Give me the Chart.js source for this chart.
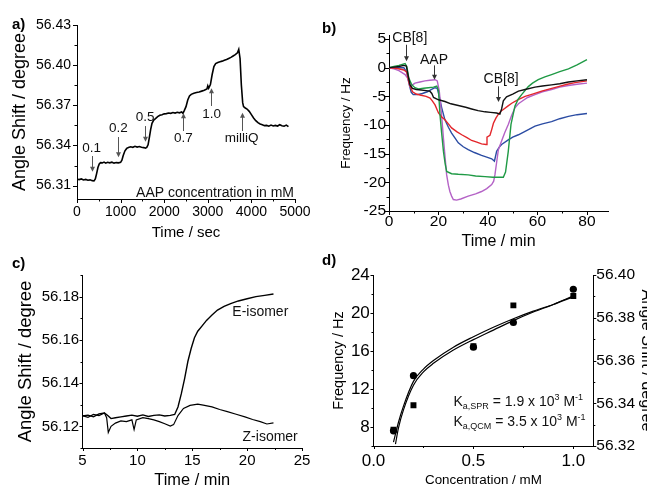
<!DOCTYPE html>
<html>
<head>
<meta charset="utf-8">
<script src="https://cdn.jsdelivr.net/npm/chart.js@4.4.1/dist/chart.umd.min.js"></script>
<style>
  body { margin: 0; background: #fff; }
  #fig { position: relative; width: 647px; height: 493px; overflow: hidden; font-family: "Liberation Sans", Arial, sans-serif; }
  .panel { position: absolute; }
  .tag { position: absolute; font-weight: bold; font-size: 15px; line-height: 1; color: #000; }
</style>
</head>
<body>
<div id="fig">
  <div class="panel" style="left:0;top:0;width:320px;height:248px"><canvas id="chartA"></canvas></div>
  <div class="panel" style="left:320px;top:0;width:327px;height:255px"><canvas id="chartB"></canvas></div>
  <div class="panel" style="left:0;top:250px;width:320px;height:243px"><canvas id="chartC"></canvas></div>
  <div class="panel" style="left:320px;top:250px;width:335px;height:243px"><canvas id="chartD"></canvas></div>
  <div class="tag" style="left:12px;top:16px">a)</div>
  <div class="tag" style="left:322px;top:20px">b)</div>
  <div class="tag" style="left:12px;top:255px">c)</div>
  <div class="tag" style="left:322px;top:252px">d)</div>
</div>
<script>
// ---- panel a: SPR angle vs time, stepwise AAP additions
const timeA = [0, 50, 100, 150, 200, 250, 300, 350, 390, 420, 450, 480, 510, 540, 580, 620, 660, 700, 750, 800,
  850, 900, 950, 1000, 1030, 1060, 1100, 1140, 1180, 1230, 1280, 1330, 1380, 1430, 1480, 1530, 1570, 1600, 1630, 1660,
  1690, 1720, 1760, 1800, 1850, 1900, 1950, 2000, 2050, 2100, 2150, 2200, 2250, 2300, 2350, 2400, 2430, 2460, 2500, 2540,
  2580, 2620, 2680, 2740, 2800, 2860, 2920, 2980, 3000, 3020, 3060, 3100, 3140, 3180, 3230, 3280, 3330, 3380, 3430, 3480,
  3530, 3580, 3630, 3680, 3710, 3740, 3770, 3800, 3820, 3860, 3900, 3950, 4000, 4050, 4100, 4150, 4200, 4250, 4300, 4350,
  4400, 4450, 4500, 4550, 4600, 4650, 4700, 4750, 4800, 4850];
const angleA = [56.3148, 56.3145, 56.3150, 56.3142, 56.3146, 56.3140, 56.3143, 56.3137, 56.3135, 56.3150, 56.3190, 56.3235, 56.3262, 56.3272, 56.3270, 56.3276, 56.3268, 56.3274, 56.3270, 56.3275,
  56.3268, 56.3272, 56.3270, 56.3274, 56.3290, 56.3325, 56.3360, 56.3378, 56.3385, 56.3390, 56.3386, 56.3394, 56.3388, 56.3392, 56.3386, 56.3384, 56.3380, 56.3385, 56.3405, 56.3460,
  56.3520, 56.3565, 56.3590, 56.3600, 56.3615, 56.3625, 56.3630, 56.3636, 56.3638, 56.3642, 56.3640, 56.3646, 56.3642, 56.3648, 56.3644, 56.3650, 56.3640, 56.3660, 56.3690, 56.3740,
  56.3770, 56.3782, 56.3790, 56.3796, 56.3800, 56.3806, 56.3812, 56.3822, 56.3845, 56.3828, 56.3855, 56.3930, 56.3990, 56.4012, 56.4020, 56.4026, 56.4030, 56.4036, 56.4042, 56.4050,
  56.4058, 56.4068, 56.4078, 56.4092, 56.4118, 56.4050, 56.3850, 56.3720, 56.3690, 56.3680, 56.3672, 56.3655, 56.3630, 56.3605, 56.3585, 56.3570, 56.3560, 56.3555, 56.3548, 56.3550,
  56.3544, 56.3552, 56.3546, 56.3550, 56.3545, 56.3555, 56.3548, 56.3544, 56.3552, 56.3540];
const xTicksA = [0, 1000, 2000, 3000, 4000, 5000];
const yTicksA = [56.31, 56.34, 56.37, 56.40, 56.43];
const stepsA = ['0.1', '0.2', '0.5', '0.7', '1.0', 'milliQ'];

// ---- panel b: QCM frequency vs time, five runs
const blackB = [[0, 0], [2, 0.1], [4, 0.2], [6, 0.4], [7, 0.3], [7.8, -1.5], [8.5, -3.0], [9.5, -3.6], [11, -3.8], [13, -3.9], [15, -4.0], [16.5, -4.1], [17.3, -4.5], [18, -5.2], [20, -5.6], [22.6, -5.9], [25, -6.3], [28, -6.6], [31, -6.9], [33.4, -7.2], [36, -7.5], [38.8, -7.7], [41, -7.8], [43.5, -7.9], [44.8, -8.1], [45.5, -7.2], [46.2, -5.8], [47.5, -5.1], [50, -4.6], [52.3, -4.1], [55, -3.8], [59, -3.4], [62, -3.2], [65.7, -3.0], [69, -2.8], [72.5, -2.5], [76, -2.3], [80, -2.1]];
const redB = [[0, 0], [3, -0.1], [6, -0.4], [7.2, -0.8], [8.2, -2.8], [9.5, -4.2], [11, -4.6], [13, -4.8], [15, -5.0], [16.6, -5.3], [17.5, -5.8], [18.6, -6.5], [20, -7.9], [21.3, -8.6], [22.6, -9.1], [24, -9.8], [25.3, -10.5], [27.5, -11.2], [29.4, -11.7], [31.5, -12.2], [33.4, -12.7], [35.5, -13.0], [37.4, -13.3], [39.2, -13.4], [39.6, -12.1], [40.8, -11.8], [41.5, -10.8], [42.2, -9.7], [43.2, -8.8], [44.2, -8.1], [45.2, -7.6], [46.2, -7.3], [48, -6.7], [49.6, -6.2], [52, -5.6], [55, -5.0], [58, -4.6], [61.7, -4.1], [65, -3.7], [68.4, -3.3], [72, -2.9], [75.2, -2.6], [80, -2.3]];
const blueB = [[0, 0], [3, 0], [6, 0], [7.2, -0.8], [8.2, -3.0], [9, -4.3], [9.8, -4.7], [11.5, -4.7], [13.5, -4.5], [15.5, -4.2], [17.2, -3.8], [18.6, -3.5], [19.5, -3.6], [20.2, -4.8], [21.3, -7.0], [22.6, -9.1], [24, -10.4], [25.3, -11.4], [26.7, -12.3], [28, -13.1], [30, -13.8], [32, -14.3], [34.5, -14.8], [37.4, -15.3], [39.5, -15.6], [41.5, -15.9], [42.6, -16.3], [43.5, -14.6], [44.5, -13.9], [45.5, -13.4], [48.2, -12.6], [50, -12.1], [52.3, -11.7], [55, -11.1], [59, -10.2], [62, -9.8], [65.7, -9.4], [69, -8.9], [72.5, -8.5], [76, -8.2], [80, -8.0]];
const greenB = [[0, 0], [2, 0.2], [4, 0.4], [6.5, 0.7], [7.2, 0.2], [8, -1.8], [9.2, -3.0], [10.5, -3.5], [11.9, -3.7], [14, -3.6], [15.9, -3.5], [18, -3.4], [19.3, -3.2], [20, -4.0], [20.6, -8.2], [21.3, -11.5], [22, -14.6], [22.7, -16.8], [23.3, -18.1], [25.3, -18.5], [28, -18.6], [32, -18.7], [35, -18.9], [38.8, -19.0], [42, -19.1], [46.2, -19.1], [47.1, -18.2], [48.2, -14.6], [49.3, -9.9], [50.9, -6.7], [52.2, -5.5], [53.6, -4.7], [56.3, -3.3], [58, -2.7], [60.3, -2.1], [63, -1.6], [65.7, -1.2], [69, -0.7], [72.5, -0.2], [76, 0.5], [80, 1.4]];
const violetB = [[0, 0], [2, -0.2], [4, -0.5], [6.5, -1.2], [7.5, -1.8], [8.5, -3.3], [9.5, -3.0], [10.5, -2.7], [12.5, -2.5], [14.5, -2.3], [16.5, -2.2], [18.6, -2.1], [19.5, -2.3], [20.3, -4.0], [21.2, -8.0], [22, -12.3], [22.7, -15.8], [23.3, -18.7], [24, -20.5], [24.6, -21.6], [25.3, -22.4], [26, -23.0], [27.3, -23.1], [29, -22.9], [32, -22.4], [35, -22.0], [37.4, -21.6], [39.5, -21.1], [41.5, -20.4], [42.3, -19.8], [42.8, -18.7], [43.5, -16.5], [44.2, -14.3], [45.5, -12.8], [46.8, -11.3], [48.2, -9.9], [49.5, -8.4], [50.9, -7.0], [52.3, -6.3], [53.6, -5.9], [56, -5.2], [59, -4.7], [62, -4.2], [65.7, -3.8], [69, -3.4], [72.5, -3.1], [76, -2.9], [80, -2.7]];
const xTicksB = [0, 20, 40, 60, 80];
const yTicksB = [-25, -20, -15, -10, -5, 0, 5];

// ---- panel c: E and Z isomer responses
const eIsomerC = [[5.0, 56.1248], [5.5, 56.1252], [6.0, 56.1244], [6.5, 56.1258], [7.0, 56.1262], [7.3, 56.1250], [7.6, 56.1236], [8.0, 56.1240], [8.5, 56.1244], [9.0, 56.1248], [9.5, 56.1252], [10.0, 56.1247], [10.5, 56.1253], [11.0, 56.1246], [11.5, 56.1251], [12.0, 56.1253], [12.5, 56.1248], [13.0, 56.1251], [13.4, 56.1255], [13.7, 56.1290], [14.0, 56.1350], [14.3, 56.1420], [14.6, 56.1500], [14.9, 56.1560], [15.2, 56.1610], [15.5, 56.1640], [15.9, 56.1665], [16.3, 56.1690], [16.8, 56.1715], [17.3, 56.1738], [17.9, 56.1755], [18.5, 56.1768], [19.2, 56.1780], [20.0, 56.1790], [20.8, 56.1800], [21.6, 56.1806], [22.4, 56.1812]];
const zIsomerC = [[5.0, 56.1250], [5.5, 56.1242], [6.0, 56.1255], [6.5, 56.1250], [7.0, 56.1262], [7.2, 56.1240], [7.35, 56.1172], [7.6, 56.1200], [8.0, 56.1215], [8.5, 56.1225], [9.0, 56.1222], [9.5, 56.1230], [9.7, 56.1185], [9.9, 56.1230], [10.5, 56.1240], [11.0, 56.1236], [11.5, 56.1230], [12.0, 56.1222], [12.5, 56.1212], [13.0, 56.1201], [13.3, 56.1208], [13.7, 56.1250], [14.2, 56.1283], [14.8, 56.1297], [15.5, 56.1303], [16.0, 56.1298], [16.8, 56.1290], [17.5, 56.1278], [18.2, 56.1268], [19.0, 56.1256], [19.8, 56.1244], [20.5, 56.1232], [21.2, 56.1222], [21.8, 56.1211], [22.4, 56.1216]];
const xTicksC = [5, 10, 15, 20, 25];
const yTicksC = [56.12, 56.14, 56.16, 56.18];

// ---- panel d: binding isotherms
const concD = [0.1, 0.2, 0.5, 0.7, 1.0];
const qcmFreqD = [7.6, 13.4, 16.4, 19.0, 22.5];
const sprAngleD = [56.3276, 56.3391, 56.3667, 56.3858, 56.3902];
const fitOneD = [[0.1, 6.4], [0.125, 8.5], [0.15, 10.2], [0.2, 12.8], [0.25, 14.1], [0.3, 15.0], [0.4, 16.4], [0.5, 17.5], [0.6, 18.5], [0.7, 19.4], [0.8, 20.2], [0.9, 20.9], [1.0, 21.7]];
const fitTwoD = [[0.11, 6.2], [0.125, 7.9], [0.15, 9.8], [0.2, 12.4], [0.25, 13.8], [0.3, 14.7], [0.4, 16.1], [0.5, 17.2], [0.6, 18.2], [0.7, 19.2], [0.8, 20.1], [0.9, 20.9], [1.0, 21.8]];
const xTicksD = [0, 0.5, 1.0];
const yTicksD = [8, 12, 16, 20, 24];
const y2TicksD = [56.32, 56.34, 56.36, 56.38, 56.40];

const FONT = '"Liberation Sans", Arial, sans-serif';
Chart.defaults.font.family = FONT;
Chart.defaults.color = '#000';
Chart.defaults.animation = false;
Chart.defaults.responsive = true;
Chart.defaults.maintainAspectRatio = false;
Chart.defaults.plugins.legend.display = false;
Chart.defaults.plugins.tooltip.enabled = false;

const xy = arr => arr.map(p => ({ x: p[0], y: p[1] }));

// minor + major tick marks drawn outward from each axis line
const axisTicks = {
  id: 'axisTicks',
  afterDraw(chart, args, opts) {
    const ctx = chart.ctx;
    ctx.save();
    ctx.strokeStyle = '#000';
    ctx.lineWidth = 1;
    Object.keys(opts.minor || {}).forEach(id => {
      const s = chart.scales[id], step = opts.minor[id];
      const base = s.ticks[0].value;
      const k0 = Math.ceil((s.min - base) / step - 1e-6), k1 = Math.floor((s.max - base) / step + 1e-6);
      ctx.beginPath();
      for (let k = k0; k <= k1; k++) {
        const v = base + k * step;
        const major = s.ticks.some(t => Math.abs(t.value - v) < step / 10);
        const len = major ? opts.major : opts.short;
        const p = Math.round(s.getPixelForValue(v)) + 0.5;
        if (s.position === 'bottom') { ctx.moveTo(p, s.top); ctx.lineTo(p, s.top + len); }
        else if (s.position === 'left') { ctx.moveTo(s.right, p); ctx.lineTo(s.right - len, p); }
        else { ctx.moveTo(s.left, p); ctx.lineTo(s.left + len, p); }
      }
      ctx.stroke();
    });
    ctx.restore();
  }
};

// text notes and arrows placed in data coordinates
const notes = {
  id: 'notes',
  afterDraw(chart, args, o) {
    if (!o.labels && !o.arrows) return;
    const ctx = chart.ctx, xs = chart.scales.x, ys = chart.scales.y;
    ctx.save();
    ctx.strokeStyle = ctx.fillStyle = o.arrowColor || '#444';
    ctx.lineWidth = 1;
    (o.arrows || []).forEach(a => {
      const x = Math.round(xs.getPixelForValue(a[0])) + 0.5;
      const y0 = ys.getPixelForValue(a[1]), y1 = ys.getPixelForValue(a[2]);
      const d = Math.sign(y1 - y0);
      ctx.beginPath(); ctx.moveTo(x, y0); ctx.lineTo(x, y1 - d * 4); ctx.stroke();
      ctx.beginPath(); ctx.moveTo(x - 2.5, y1 - d * 5); ctx.lineTo(x + 2.5, y1 - d * 5); ctx.lineTo(x, y1); ctx.closePath(); ctx.fill();
    });
    ctx.fillStyle = '#111';
    ctx.textBaseline = 'middle';
    (o.labels || []).forEach(l => {
      let x = xs.getPixelForValue(l.x);
      const y = ys.getPixelForValue(l.y);
      if (l.parts) {
        ctx.textAlign = 'left';
        l.parts.forEach(p => {
          ctx.font = p[1] + 'px ' + FONT;
          ctx.fillText(p[0], x, y + p[2]);
          x += ctx.measureText(p[0]).width;
        });
      } else {
        ctx.textAlign = 'center';
        ctx.font = l.size + 'px ' + FONT;
        ctx.fillText(l.text, x, y);
      }
    });
    ctx.restore();
  }
};
Chart.register(axisTicks, notes);

function axis(o) {
  return {
    type: 'linear', position: o.pos, min: o.min, max: o.max,
    grid: { display: false, drawTicks: false },
    border: { display: true, color: '#000', width: 1 },
    afterBuildTicks: s => { s.ticks = o.ticks.map(v => ({ value: v })); },
    afterFit: s => {
      if (o.pos === 'bottom') s.height = o.size; else s.width = o.size;
      s.paddingLeft = s.paddingRight = s.paddingTop = s.paddingBottom = 0;
    },
    ticks: { color: '#000', padding: o.pad, autoSkip: false, maxRotation: 0, font: { size: o.font, lineHeight: 1 }, callback: o.fmt },
    title: { display: true, text: o.title, color: '#000', font: { size: o.titleSize, lineHeight: 1 }, padding: o.titlePad }
  };
}

const trace = (data, color, w) => ({ data: data, borderColor: color, borderWidth: w, pointRadius: 0, tension: 0, fill: false });

// a)
new Chart(document.getElementById('chartA'), {
  type: 'line',
  data: { datasets: [trace(timeA.map((t, i) => ({ x: t, y: angleA[i] })), '#000', 1.6)] },
  options: {
    layout: { padding: { left: 0, top: 25, right: 25, bottom: 0 } },
    scales: {
      x: axis({ pos: 'bottom', min: 0, max: 5000, ticks: xTicksA, size: 49, pad: 6, font: 14, fmt: v => String(v), title: 'Time / sec', titleSize: 15, titlePad: { bottom: 7.5 } }),
      y: axis({ pos: 'left', min: 56.30, max: 56.43, ticks: yTicksA, size: 77, pad: 6, font: 14, fmt: v => v.toFixed(2), title: 'Angle Shift / degree', titleSize: 18, titlePad: { top: 11.5 } })
    },
    plugins: {
      axisTicks: { minor: { x: 500, y: 0.015 }, major: 4, short: 2.5 },
      notes: {
        arrowColor: '#555',
        arrows: [[352, 56.3321, 56.3204], [948, 56.3463, 56.3312], [1560, 56.3545, 56.3428], [2438, 56.3508, 56.3640], [3074, 56.3695, 56.3827], [3778, 56.3508, 56.3645]],
        labels: [
          { text: stepsA[0], x: 337, y: 56.3380, size: 13.5 },
          { text: stepsA[1], x: 948, y: 56.3528, size: 13.5 },
          { text: stepsA[2], x: 1560, y: 56.3608, size: 13.5 },
          { text: stepsA[3], x: 2438, y: 56.3454, size: 13.5 },
          { text: stepsA[4], x: 3090, y: 56.3633, size: 13.5 },
          { text: stepsA[5], x: 3778, y: 56.3454, size: 13.5 },
          { text: 'AAP concentration in mM', x: 3166, y: 56.3043, size: 14 }
        ]
      }
    }
  }
});

// b)
new Chart(document.getElementById('chartB'), {
  type: 'line',
  data: {
    datasets: [
      trace(xy(blackB), '#111111', 1.4),
      trace(xy(greenB), '#1f9a45', 1.4),
      trace(xy(redB), '#e3262b', 1.4),
      trace(xy(violetB), '#b462c6', 1.4),
      trace(xy(blueB), '#2b4ca3', 1.4)
    ]
  },
  options: {
    layout: { padding: { left: 0, top: 35, right: 39, bottom: 0 } },
    scales: {
      x: axis({ pos: 'bottom', min: 0, max: 88.5, ticks: xTicksB, size: 44, pad: 2.75, font: 15.5, fmt: v => String(v), title: 'Time / min', titleSize: 16, titlePad: { bottom: 5.5 } }),
      y: axis({ pos: 'left', min: -25, max: 5.7, ticks: yTicksB, size: 69, pad: 3, font: 15.5, fmt: v => String(v), title: 'Frequency / Hz', titleSize: 13.5, titlePad: { top: 19.75 } })
    },
    plugins: {
      axisTicks: { minor: { x: 10, y: 2.5 }, major: 4, short: 2.5 },
      notes: {
        arrowColor: '#333',
        arrows: [[6.9, 4.0, 1.1], [18.3, 0.4, -2.1], [44.2, -3.25, -6.0]],
        labels: [
          { text: 'CB[8]', x: 8.4, y: 5.17, size: 14 },
          { text: 'AAP', x: 18.2, y: 1.39, size: 14 },
          { text: 'CB[8]', x: 45.3, y: -1.94, size: 14 }
        ]
      }
    }
  }
});

// c)
new Chart(document.getElementById('chartC'), {
  type: 'line',
  data: { datasets: [trace(xy(eIsomerC), '#000', 1.4), trace(xy(zIsomerC), '#000', 1.2)] },
  options: {
    layout: { padding: { left: 0, top: 25, right: 18, bottom: 0 } },
    scales: {
      x: axis({ pos: 'bottom', min: 5, max: 25, ticks: xTicksC, size: 45, pad: 5.5, font: 15, fmt: v => String(v), title: 'Time / min', titleSize: 16.4, titlePad: { bottom: 4.8 } }),
      y: axis({ pos: 'left', min: 56.11, max: 56.19, ticks: yTicksC, size: 82.5, pad: 3.3, font: 15, fmt: v => v.toFixed(2), title: 'Angle Shift / degree', titleSize: 18.4, titlePad: { top: 16.6 } })
    },
    plugins: {
      axisTicks: { minor: { x: 2.5, y: 0.01 }, major: 3, short: 2 },
      notes: {
        labels: [
          { text: 'E-isomer', x: 21.2, y: 56.1728, size: 14 },
          { text: 'Z-isomer', x: 22.1, y: 56.1150, size: 14 }
        ]
      }
    }
  }
});

// d)
new Chart(document.getElementById('chartD'), {
  type: 'line',
  data: {
    datasets: [
      { type: 'scatter', data: concD.map((c, i) => ({ x: c, y: qcmFreqD[i] })), pointStyle: 'circle', pointRadius: 3.6, backgroundColor: '#000', borderColor: '#000', borderWidth: 0, yAxisID: 'y' },
      { type: 'scatter', data: concD.map((c, i) => ({ x: c, y: sprAngleD[i] })), pointStyle: 'rect', pointRadius: 4.2, backgroundColor: '#000', borderColor: '#000', borderWidth: 0, yAxisID: 'y2' },
      Object.assign(trace(xy(fitOneD), '#000', 1.2), { cubicInterpolationMode: 'monotone', yAxisID: 'y' }),
      Object.assign(trace(xy(fitTwoD), '#000', 1.2), { cubicInterpolationMode: 'monotone', yAxisID: 'y' })
    ]
  },
  options: {
    layout: { padding: { left: 0, top: 25, right: 0, bottom: 0 } },
    scales: {
      x: axis({ pos: 'bottom', min: 0, max: 1.1, ticks: xTicksD, size: 47, pad: 6.5, font: 17, fmt: v => v.toFixed(1), title: 'Concentration / mM', titleSize: 13.4, titlePad: { bottom: 6.3 } }),
      y: axis({ pos: 'left', min: 6, max: 24, ticks: yTicksD, size: 53.5, pad: 3.7, font: 17, fmt: v => String(v), title: 'Frequency / Hz', titleSize: 14.5, titlePad: { top: 11.25 } }),
      y2: axis({ pos: 'right', min: 56.32, max: 56.40, ticks: y2TicksD, size: 61.7, pad: 3, font: 15.5, fmt: v => v.toFixed(2), title: 'Angle Shift / degree', titleSize: 16.2, titlePad: { top: 0.9 } })
    },
    plugins: {
      axisTicks: { minor: { x: 0.25, y: 2, y2: 0.01 }, major: 3, short: 2 },
      notes: {
        labels: [
          { x: 0.40, y: 10.6, parts: [['K', 14, 0], ['a,SPR', 9, 4], [' = 1.9 x 10', 14, 0], ['3', 9, -5], [' M', 14, 0], ['-1', 9, -5]] },
          { x: 0.40, y: 8.5, parts: [['K', 14, 0], ['a,QCM', 9, 4], [' = 3.5 x 10', 14, 0], ['3', 9, -5], [' M', 14, 0], ['-1', 9, -5]] }
        ]
      }
    }
  }
});
</script>
</body>
</html>
